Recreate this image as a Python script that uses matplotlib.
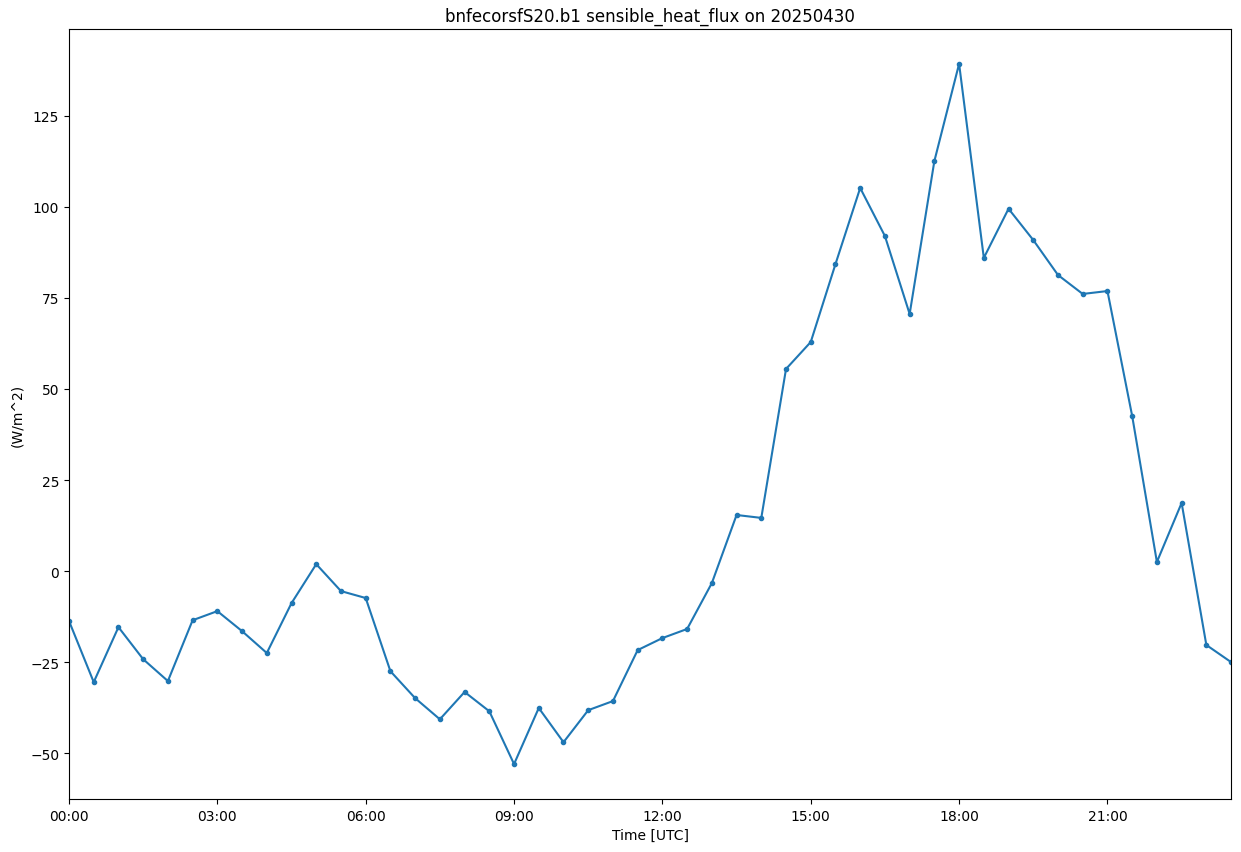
import matplotlib
matplotlib.use("Agg")
import matplotlib.pyplot as plt
import matplotlib.dates as mdates
import numpy as np
import pandas as pd

times = pd.date_range("2025-04-30 00:00", periods=48, freq="30min")
flux = [-13.7, -30.5, -15.4, -24.2, -30.2, -13.5, -11.0, -16.5, -22.5, -8.8,
        1.9, -5.5, -7.4, -27.5, -34.9, -40.7, -33.2, -38.5, -53.0, -37.6,
        -47.0, -38.2, -35.7, -21.7, -18.4, -15.9, -3.3, 15.4, 14.6, 55.5,
        62.9, 84.3, 105.2, 92.0, 70.6, 112.6, 139.3, 86.0, 99.5, 90.9,
        81.3, 76.1, 76.9, 42.6, 2.5, 18.7, -20.3, -25.0]

fig = plt.figure(figsize=(12.41, 8.53), dpi=100)
ax = fig.add_axes([0.0556, 0.0621, 0.9364, 0.9029])
ax.plot(times, flux, marker=".", markersize=6, color="#1f77b4")
ax.set_xlim(times[0], times[-1])
ax.set_ylim(-62.6, 148.9)
ax.xaxis.set_major_locator(mdates.HourLocator(byhour=range(0, 24, 3)))
ax.xaxis.set_major_formatter(mdates.DateFormatter("%H:%M"))
ax.set_xlabel("Time [UTC]")
ax.set_ylabel("(W/m^2)")
ax.set_title("bnfecorsfS20.b1 sensible_heat_flux on 20250430")
fig.savefig("out.png", dpi=100)
